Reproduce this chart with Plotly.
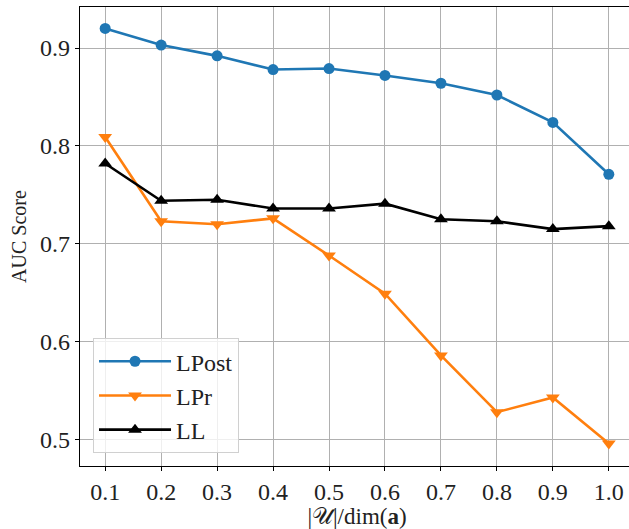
import plotly.graph_objects as go

x_vals = [0.1, 0.2, 0.3, 0.4, 0.5, 0.6, 0.7, 0.8, 0.9, 1.0]
lpost = [0.920, 0.903, 0.892, 0.878, 0.879, 0.872, 0.864, 0.852, 0.824, 0.771]
lpr = [0.809, 0.723, 0.720, 0.726, 0.688, 0.649, 0.586, 0.528, 0.543, 0.496]
ll = [0.782, 0.744, 0.745, 0.736, 0.736, 0.741, 0.725, 0.723, 0.715, 0.718]
x_ticks = [0.1, 0.2, 0.3, 0.4, 0.5, 0.6, 0.7, 0.8, 0.9, 1.0]
x_ticktext = ["0.1", "0.2", "0.3", "0.4", "0.5", "0.6", "0.7", "0.8", "0.9", "1.0"]
y_ticks = [0.5, 0.6, 0.7, 0.8, 0.9]
y_ticktext = ["0.5", "0.6", "0.7", "0.8", "0.9"]

FONT = "Liberation Serif"
TICKFONT = dict(family=FONT, size=24, color="#222")

fig = go.Figure()
fig.add_trace(go.Scatter(x=x_vals, y=lpost, name="LPost", mode="lines+markers",
                         line=dict(color="#1f77b4", width=2.6),
                         marker=dict(symbol="circle", size=11, color="#1f77b4")))
fig.add_trace(go.Scatter(x=x_vals, y=lpr, name="LPr", mode="lines+markers",
                         line=dict(color="#ff7f0e", width=2.6),
                         marker=dict(symbol="triangle-down", size=12, color="#ff7f0e")))
fig.add_trace(go.Scatter(x=x_vals, y=ll, name="LL", mode="lines+markers",
                         line=dict(color="black", width=2.6),
                         marker=dict(symbol="triangle-up", size=12, color="black")))

fig.update_layout(
    width=636, height=529,
    margin=dict(l=80, r=2, t=7, b=63),
    plot_bgcolor="white", paper_bgcolor="white",
    font=dict(family=FONT, size=21, color="#222"),
    showlegend=True,
    legend=dict(x=0.0235, y=0.028, xanchor="left", yanchor="bottom",
                bgcolor="rgba(255,255,255,0.8)", bordercolor="#d0d0d0", borderwidth=1,
                font=dict(family=FONT, size=24, color="#222"),
                itemwidth=72),
    xaxis=dict(range=[0.055, 1.045], tickmode="array", tickvals=x_ticks, ticktext=x_ticktext,
               tickfont=TICKFONT,
               showgrid=True, gridcolor="#b0b0b0", gridwidth=1,
               showline=True, linecolor="black", linewidth=1.2, mirror=True,
               ticks="outside", ticklen=4, tickcolor="black", zeroline=False,
               title=dict(text="|𝒰|/dim(<b>a</b>)", font=dict(family=FONT, size=23), standoff=0)),
    yaxis=dict(range=[0.473, 0.9419], tickmode="array",
               tickvals=y_ticks, ticktext=y_ticktext,
               tickfont=TICKFONT,
               showgrid=True, gridcolor="#b0b0b0", gridwidth=1,
               showline=True, linecolor="black", linewidth=1.2, mirror=True,
               ticks="outside", ticklen=4, tickcolor="black", zeroline=False,
               title=dict(text="AUC Score", font=dict(family=FONT, size=20), standoff=8)),
)

fig.write_html(
    "out.html",
    config={"displayModeBar": False},
    post_script="document.body.style.margin='0';document.body.style.overflow='hidden';"
                "document.documentElement.style.overflow='hidden';",
)
